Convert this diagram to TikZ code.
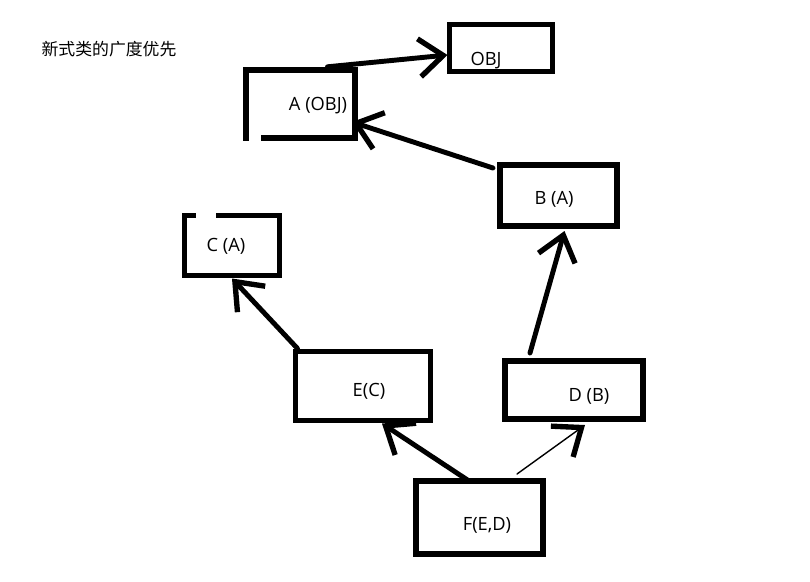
\documentclass[tikz,border=0pt]{standalone}
\usepackage{fontspec}
\setmainfont{Open Sans}
\newfontfamily\cjk{Noto Sans CJK SC}
\usetikzlibrary{positioning, arrows.meta}

\tikzset{
    box/.style={draw, line width=4.2pt, inner sep=0pt, outer sep=0pt},
    lbl/.style={inner sep=0pt, font=\fontsize{13}{15}\selectfont},
    link/.style={line width=3.5pt, line cap=round,
        -{Straight Barb[length=6mm, width=9.5mm, line width=3.8pt]}},
    thinlink/.style={link, line width=1pt},
}

\begin{document}
\begin{tikzpicture}[x=0.025cm, y=-0.025cm]
    \useasboundingbox (0,0) rectangle (810,581);

    % Title
    \node[lbl, font=\fontsize{12}{14}\selectfont] (title) at (109,49) {\cjk 新式类的广度优先};

    % Class boxes
    \node[box, minimum width=2.575cm, minimum height=1.175cm] (OBJ) at (501,48) {};
    \node[box, minimum width=2.725cm, minimum height=1.71cm] (A) at (300.5,104) {};
    \node[box, minimum width=2.925cm, minimum height=1.525cm] (B) at (558.5,195.5) {};
    \node[box, minimum width=2.375cm, minimum height=1.5cm] (C) at (232,245.5) {};
    \node[box, minimum width=3.375cm, minimum height=1.725cm] (E) at (363,386) {};
    \node[box, minimum width=3.45cm, minimum height=1.45cm] (D) at (574,390) {};
    \node[box, minimum width=3.175cm, minimum height=1.825cm] (F) at (479.5,517.5) {};

    % gaps left by the pen
    \fill[white] (249,132) rectangle (261,144);
    \fill[white] (196,209) rectangle (216,220);

    % Labels
    \node[lbl] (OBJtxt) at ([shift={(-15,13)}]OBJ.center) {OBJ};
    \node[lbl] (Atxt) at ([shift={(17.5,2)}]A.center) {A (OBJ)};
    \node[lbl] (Btxt) at ([shift={(-4.5,4)}]B.center) {B (A)};
    \node[lbl] (Ctxt) at ([shift={(-6,0.5)}]C.center) {C (A)};
    \node[lbl] (Etxt) at ([shift={(6,5)}]E.center) {E(C)};
    \node[lbl] (Dtxt) at ([shift={(15,6)}]D.center) {D (B)};
    \node[lbl] (Ftxt) at ([shift={(7.5,7.5)}]F.center) {F(E,D)};

    % Lookup arrows
    \draw[link] ([shift={(27,-3)}]A.north) -- ([shift={(-2,7)}]OBJ.west);
    \draw[link] ([shift={(-7,3)}]B.north west) -- ([shift={(-3,18)}]A.east);
    \draw[link] ([shift={(-44,-8)}]D.north) -- ([shift={(6,5)}]B.south);
    \draw[link] ([shift={(2,-3)}]E.north west) -- ([shift={(0,3)}]C.south);
    \draw[link] ([shift={(-12,-1)}]F.north) -- ([shift={(19,3)}]E.south);
    \draw[thinlink] ([shift={(37.5,-7)}]F.north) -- ([shift={(11,6)}]D.south);
\end{tikzpicture}
\end{document}
